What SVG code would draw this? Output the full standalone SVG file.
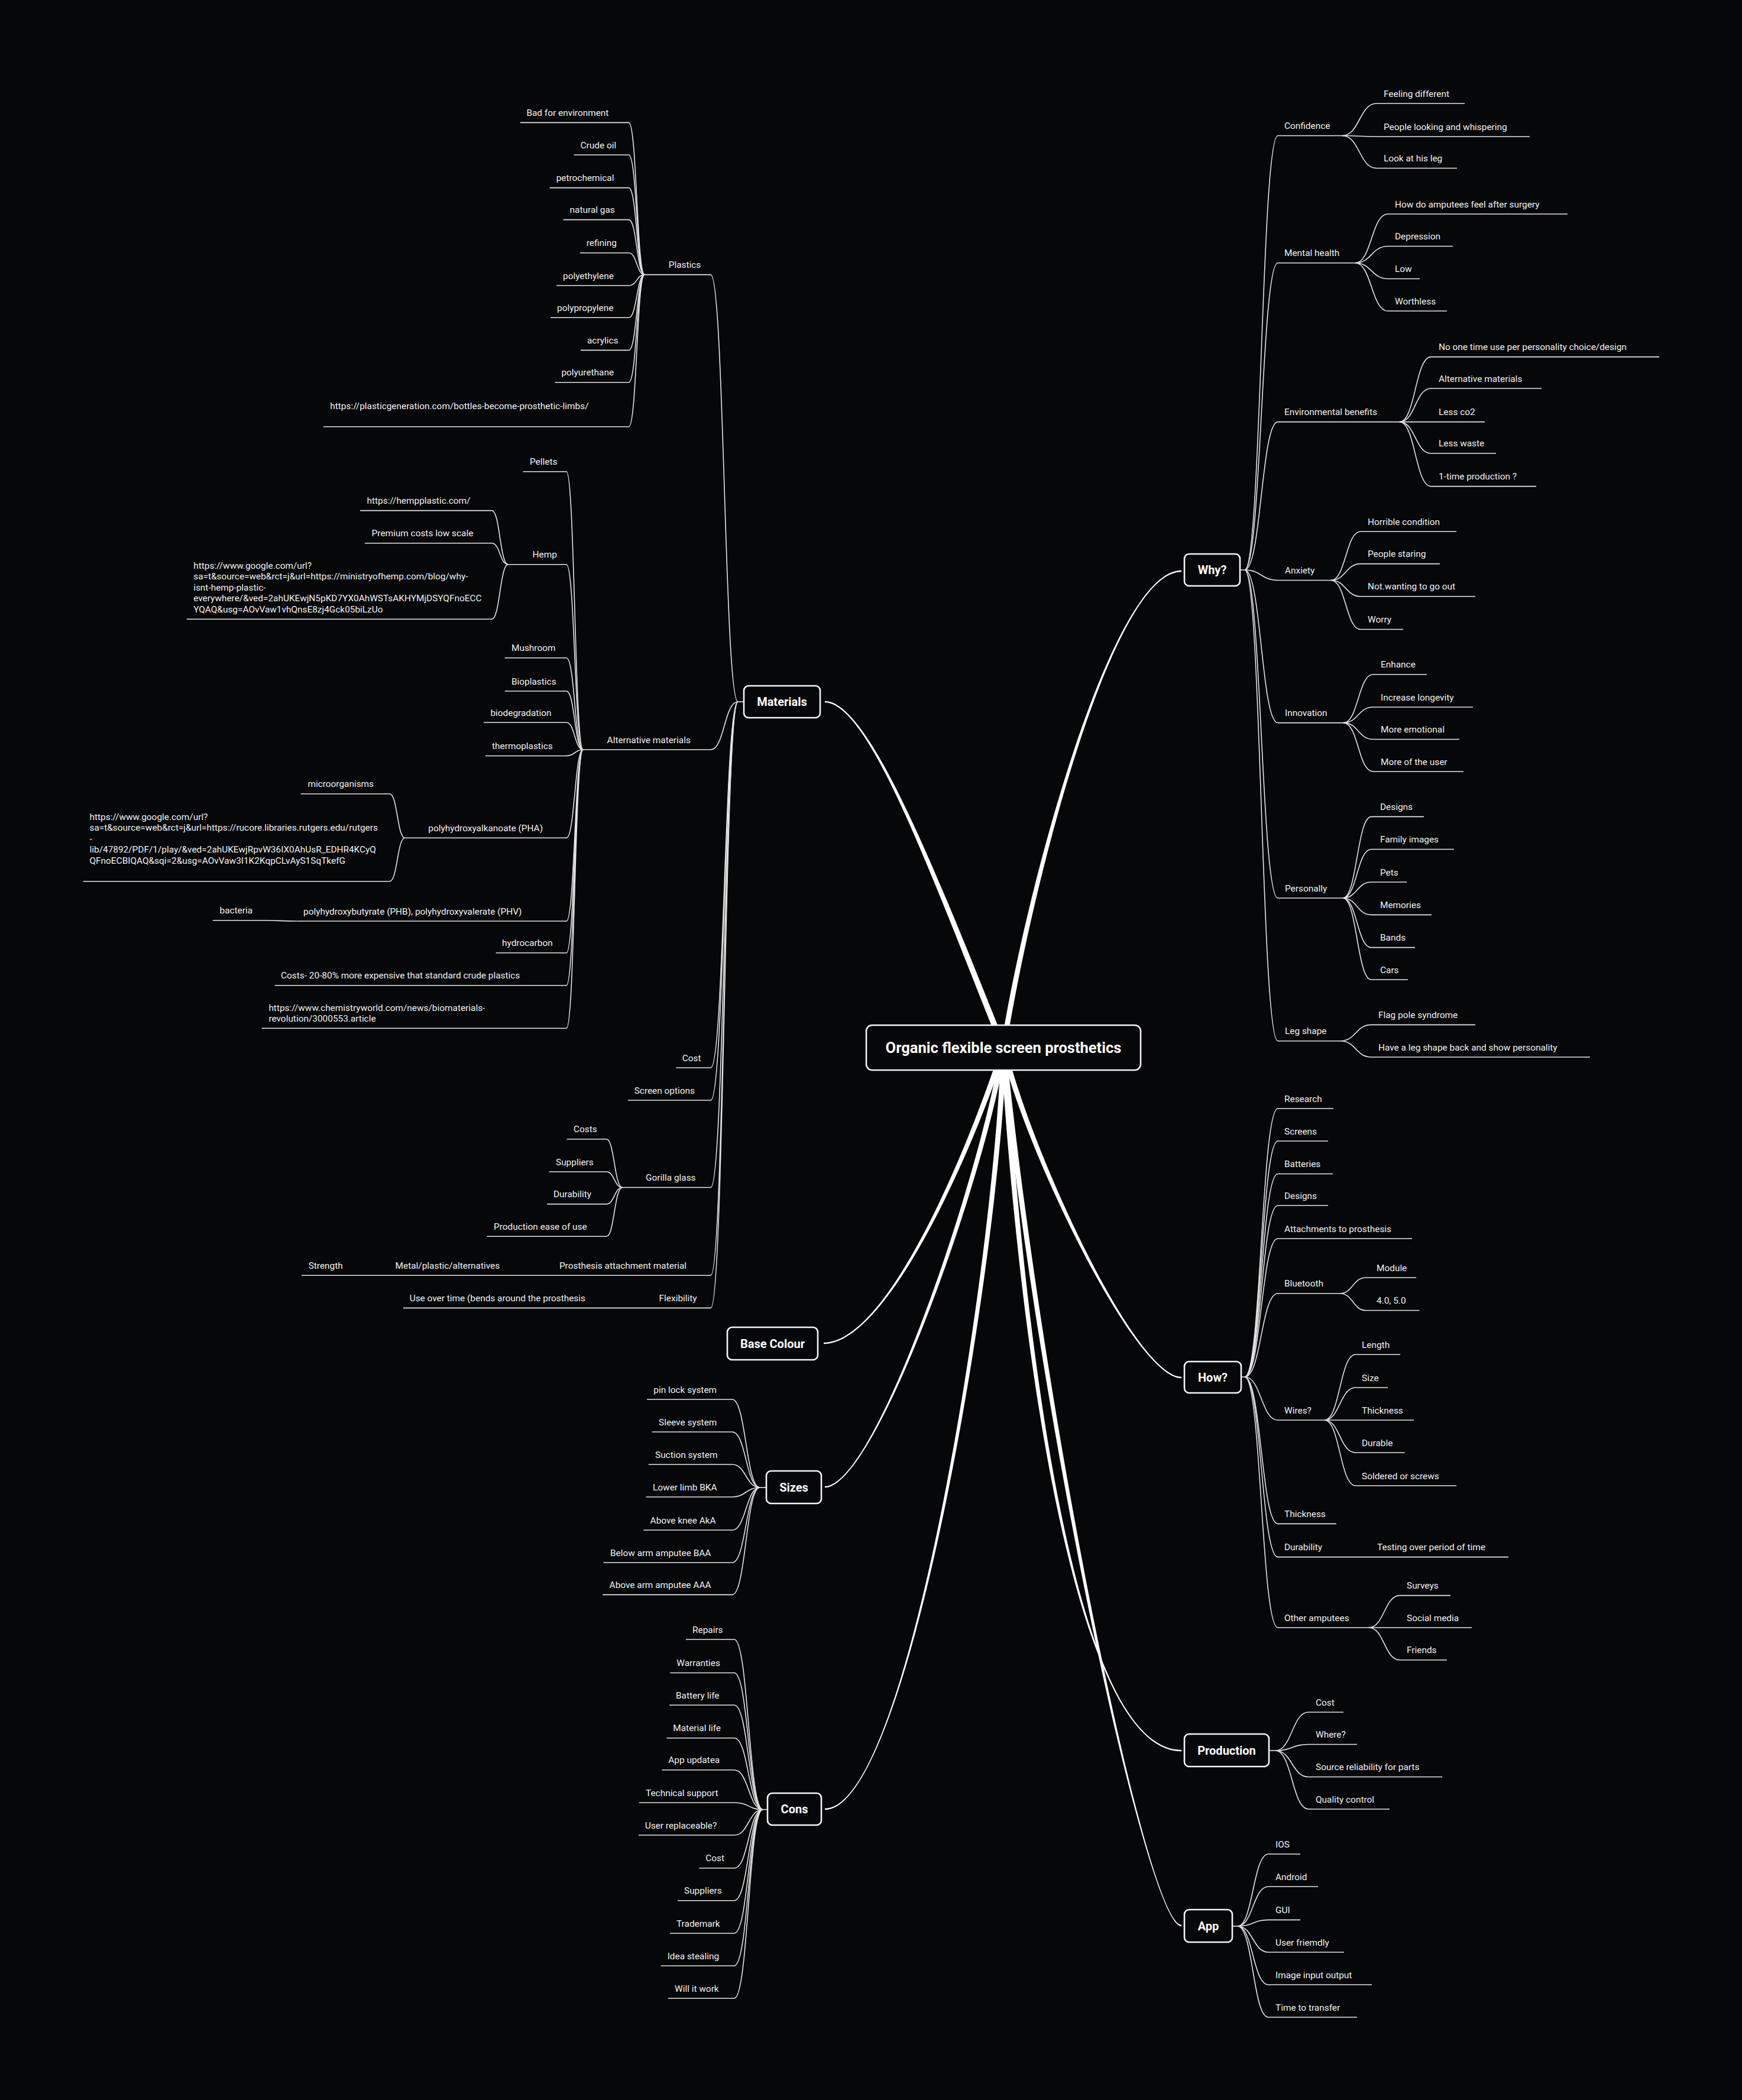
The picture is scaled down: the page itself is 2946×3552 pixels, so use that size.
<svg xmlns="http://www.w3.org/2000/svg" width="2946" height="3552" viewBox="0 0 2946 3552">
<style>
.bg{fill:#060709}
.m{fill:#ffffff}
.c{fill:none;stroke:#e4e4e4;stroke-width:1.6}
.t{font-family:Roboto,"Liberation Sans",sans-serif;font-size:15.4px;fill:#f2f2f2}
.nb{fill:#060709;stroke:#f4f4f4;stroke-width:2.6}
.nt{font-family:Roboto,"Liberation Sans",sans-serif;font-size:20px;font-weight:700;fill:#ffffff;text-anchor:middle}
.ct{font-family:Roboto,"Liberation Sans",sans-serif;font-size:25.5px;font-weight:700;fill:#ffffff;text-anchor:middle}
</style>
<rect class="bg" x="0" y="0" width="2946" height="3552"/>
<g id="connectors">
<!-- main tapered connectors -->
<path class="m" d="M1701.6 1770.1C1584.6 1478.1 1470 1185.8 1395 1185.8L1395 1188.2C1470 1188.2 1575.4 1481.9 1692.4 1773.9Z"/>
<path class="m" d="M1701.4 1772.7C1744.4 1500.7 1880 967.2 1998 967.2L1998 964.8C1880 964.8 1735.6 1499.3 1692.6 1771.3Z"/>
<path class="m" d="M1692.7 1770.6C1635.7 1948.6 1500 2270.8 1393 2270.8L1393 2273.2C1500 2273.2 1644.3 1951.4 1701.3 1773.4Z"/>
<path class="m" d="M1692.6 1771.3C1655.6 1999.3 1480 2513.8 1395 2513.8L1395 2516.2C1480 2516.2 1664.4 2000.7 1701.4 1772.7Z"/>
<path class="m" d="M1692.5 1771.9C1685.5 2099.9 1540 3058.8 1395 3058.8L1395 3061.2C1540 3061.2 1694.5 2100.1 1701.5 1772.1Z"/>
<path class="m" d="M1692.6 1773.1C1735.6 1951.1 1920 2331.2 1998 2331.2L1998 2328.8C1920 2328.8 1744.4 1948.9 1701.4 1770.9Z"/>
<path class="m" d="M1692.5 1772.3C1725.5 2300.3 1820 2962.2 1998 2962.2L1998 2959.8C1820 2959.8 1734.5 2299.7 1701.5 1771.7Z"/>
<path class="m" d="M1692.5 1772.5C1755.5 2400.5 1940 3258.2 1998 3258.2L1998 3255.8C1940 3255.8 1764.5 2399.5 1701.5 1771.5Z"/>
<!-- Why? -->
<path class="c" d="M2097 964H2105"/>
<path class="c" d="M2105 964C2133 964 2133 229.5 2161 229.5H2270"/>
<path class="c" d="M2105 964C2133 964 2133 444.8 2161 444.8H2292"/>
<path class="c" d="M2105 964C2133 964 2133 713.6 2161 713.6H2367"/>
<path class="c" d="M2105 964C2133 964 2133 981.5 2161 981.5H2251"/>
<path class="c" d="M2105 964C2133 964 2133 1222.6 2161 1222.6H2272"/>
<path class="c" d="M2105 964C2133 964 2133 1519 2161 1519H2271"/>
<path class="c" d="M2105 964C2133 964 2133 1760.7 2161 1760.7H2267"/>
<path class="c" d="M2270 229.5C2299 229.5 2299 175 2328 175H2477"/>
<path class="c" d="M2270 229.5C2299 229.5 2299 231 2328 231H2587"/>
<path class="c" d="M2270 229.5C2299 229.5 2299 284.5 2328 284.5H2464"/>
<path class="c" d="M2292 444.8C2319.5 444.8 2319.5 362 2347 362H2651"/>
<path class="c" d="M2292 444.8C2319.5 444.8 2319.5 416.5 2347 416.5H2457"/>
<path class="c" d="M2292 444.8C2319.5 444.8 2319.5 471.5 2347 471.5H2401"/>
<path class="c" d="M2292 444.8C2319.5 444.8 2319.5 526 2347 526H2447"/>
<path class="c" d="M2367 713.6C2393.5 713.6 2393.5 603.6 2420 603.6H2806"/>
<path class="c" d="M2367 713.6C2393.5 713.6 2393.5 657 2420 657H2607"/>
<path class="c" d="M2367 713.6C2393.5 713.6 2393.5 713.6 2420 713.6H2511"/>
<path class="c" d="M2367 713.6C2393.5 713.6 2393.5 766.7 2420 766.7H2530"/>
<path class="c" d="M2367 713.6C2393.5 713.6 2393.5 822.6 2420 822.6H2598"/>
<path class="c" d="M2251 981.5C2276 981.5 2276 899 2301 899H2463"/>
<path class="c" d="M2251 981.5C2276 981.5 2276 953.6 2301 953.6H2435"/>
<path class="c" d="M2251 981.5C2276 981.5 2276 1008.8 2301 1008.8H2495"/>
<path class="c" d="M2251 981.5C2276 981.5 2276 1064.5 2301 1064.5H2373"/>
<path class="c" d="M2272 1222.6C2297 1222.6 2297 1140.8 2322 1140.8H2413"/>
<path class="c" d="M2272 1222.6C2297 1222.6 2297 1196 2322 1196H2491"/>
<path class="c" d="M2272 1222.6C2297 1222.6 2297 1250.5 2322 1250.5H2468"/>
<path class="c" d="M2272 1222.6C2297 1222.6 2297 1305 2322 1305H2475"/>
<path class="c" d="M2271 1519C2295 1519 2295 1381.4 2319 1381.4H2408"/>
<path class="c" d="M2271 1519C2295 1519 2295 1436.5 2319 1436.5H2459"/>
<path class="c" d="M2271 1519C2295 1519 2295 1492 2319 1492H2379"/>
<path class="c" d="M2271 1519C2295 1519 2295 1547.4 2319 1547.4H2421"/>
<path class="c" d="M2271 1519C2295 1519 2295 1602.6 2319 1602.6H2393"/>
<path class="c" d="M2271 1519C2295 1519 2295 1657 2319 1657H2381"/>
<path class="c" d="M2267 1760.7C2293 1760.7 2293 1733.4 2319 1733.4H2495"/>
<path class="c" d="M2267 1760.7C2293 1760.7 2293 1788 2319 1788H2689"/>
<!-- How? -->
<path class="c" d="M2099 2329H2105"/>
<path class="c" d="M2105 2329C2133 2329 2133 1875 2161 1875H2255"/>
<path class="c" d="M2105 2329C2133 2329 2133 1930 2161 1930H2246"/>
<path class="c" d="M2105 2329C2133 2329 2133 1985.5 2161 1985.5H2254"/>
<path class="c" d="M2105 2329C2133 2329 2133 2039 2161 2039H2246"/>
<path class="c" d="M2105 2329C2133 2329 2133 2095 2161 2095H2388"/>
<path class="c" d="M2105 2329C2133 2329 2133 2187.7 2161 2187.7H2266"/>
<path class="c" d="M2105 2329C2133 2329 2133 2402 2161 2402H2240"/>
<path class="c" d="M2105 2329C2133 2329 2133 2577.4 2161 2577.4H2260"/>
<path class="c" d="M2105 2329C2133 2329 2133 2633.6 2161 2633.6H2551"/>
<path class="c" d="M2105 2329C2133 2329 2133 2753 2161 2753H2315"/>
<path class="c" d="M2266 2187.7C2288 2187.7 2288 2161 2310 2161H2395"/>
<path class="c" d="M2266 2187.7C2288 2187.7 2288 2216.5 2310 2216.5H2400.5"/>
<path class="c" d="M2240 2402C2266 2402 2266 2291 2292.5 2291H2368"/>
<path class="c" d="M2240 2402C2266 2402 2266 2347 2292.5 2347H2347"/>
<path class="c" d="M2240 2402C2266 2402 2266 2402 2292.5 2402H2391"/>
<path class="c" d="M2240 2402C2266 2402 2266 2457 2292.5 2457H2375.5"/>
<path class="c" d="M2240 2402C2266 2402 2266 2513 2292.5 2513H2463"/>
<path class="c" d="M2315 2753C2341 2753 2341 2698.6 2367.5 2698.6H2453"/>
<path class="c" d="M2315 2753C2341 2753 2341 2753 2367.5 2753H2489"/>
<path class="c" d="M2315 2753C2341 2753 2341 2807.8 2367.5 2807.8H2447"/>
<!-- Production -->
<path class="c" d="M2146 2961H2157"/>
<path class="c" d="M2157 2961C2185 2961 2185 2896 2213 2896H2272"/>
<path class="c" d="M2157 2961C2185 2961 2185 2950.5 2213 2950.5H2295"/>
<path class="c" d="M2157 2961C2185 2961 2185 3005.5 2213 3005.5H2439"/>
<path class="c" d="M2157 2961C2185 2961 2185 3060 2213 3060H2350"/>
<!-- App -->
<path class="c" d="M2084 3258H2093"/>
<path class="c" d="M2093 3258C2119 3258 2119 3136 2145 3136H2199"/>
<path class="c" d="M2093 3258C2119 3258 2119 3191 2145 3191H2229"/>
<path class="c" d="M2093 3258C2119 3258 2119 3247.4 2145 3247.4H2199"/>
<path class="c" d="M2093 3258C2119 3258 2119 3302 2145 3302H2273"/>
<path class="c" d="M2093 3258C2119 3258 2119 3357 2145 3357H2320"/>
<path class="c" d="M2093 3258C2119 3258 2119 3412 2145 3412H2295"/>
<!-- Materials -->
<path class="c" d="M1258 1187H1248"/>
<path class="c" d="M1248 1187C1225 1187 1225 464.6 1202 464.6H1090"/>
<path class="c" d="M1248 1187C1225 1187 1225 1268 1202 1268H986"/>
<path class="c" d="M1248 1187C1225 1187 1225 1806 1202 1806H1143.3"/>
<path class="c" d="M1248 1187C1225 1187 1225 1861 1202 1861H1061.8"/>
<path class="c" d="M1248 1187C1225 1187 1225 2008.5 1202 2008.5H1052.6"/>
<path class="c" d="M1248 1187C1225 1187 1225 2157.3 1202 2157.3H510"/>
<path class="c" d="M1248 1187C1225 1187 1225 2212.4 1202 2212.4H682"/>
<path class="c" d="M1090 464.6C1077 464.6 1077 207.4 1063.4 207.4H879.7"/>
<path class="c" d="M1090 464.6C1077 464.6 1077 262 1063.4 262H970.5"/>
<path class="c" d="M1090 464.6C1077 464.6 1077 317.6 1063.4 317.6H929.7"/>
<path class="c" d="M1090 464.6C1077 464.6 1077 371.6 1063.4 371.6H952.6"/>
<path class="c" d="M1090 464.6C1077 464.6 1077 427.8 1063.4 427.8H980.7"/>
<path class="c" d="M1090 464.6C1077 464.6 1077 483 1063.4 483H941"/>
<path class="c" d="M1090 464.6C1077 464.6 1077 537.3 1063.4 537.3H931"/>
<path class="c" d="M1090 464.6C1077 464.6 1077 592.4 1063.4 592.4H982"/>
<path class="c" d="M1090 464.6C1077 464.6 1077 646.7 1063.4 646.7H938.4"/>
<path class="c" d="M1090 464.6C1077 464.6 1077 721.8 1063.4 721.8H547"/>
<path class="c" d="M986 1268C972 1268 972 797.7 958 797.7H884.6"/>
<path class="c" d="M986 1268C972 1268 972 954.8 958 954.8H859.3"/>
<path class="c" d="M986 1268C972 1268 972 1112.7 958 1112.7H853.6"/>
<path class="c" d="M986 1268C972 1268 972 1169 958 1169H853.6"/>
<path class="c" d="M986 1268C972 1268 972 1222 958 1222H818"/>
<path class="c" d="M986 1268C972 1268 972 1278.5 958 1278.5H821"/>
<path class="c" d="M986 1268C972 1268 972 1417.3 958 1417.3H684.7"/>
<path class="c" d="M986 1268C972 1268 972 1558 958 1558H501.4"/>
<path class="c" d="M986 1268C972 1268 972 1611.7 958 1611.7H838.7"/>
<path class="c" d="M986 1268C972 1268 972 1666.7 958 1666.7H464.7"/>
<path class="c" d="M986 1268C972 1268 972 1739.3 958 1739.3H442.7"/>
<path class="c" d="M859.3 954.8C845.5 954.8 845.5 863.6 831.8 863.6H609"/>
<path class="c" d="M859.3 954.8C845.5 954.8 845.5 918.7 831.8 918.7H617"/>
<path class="c" d="M859.3 954.8C845.5 954.8 845.5 1047.2 831.8 1047.2H315.7"/>
<path class="c" d="M684.7 1417.3C672 1417.3 672 1342.7 659 1342.7H508.7"/>
<path class="c" d="M684.7 1417.3C672 1417.3 672 1490.7 659 1490.7H140.5"/>
<path class="c" d="M501.4 1558C474 1558 474 1556.7 446 1556.7H359.8"/>
<path class="c" d="M1052.6 2008.5C1039 2008.5 1039 1926.8 1025.7 1926.8H958.5"/>
<path class="c" d="M1052.6 2008.5C1039 2008.5 1039 1982 1025.7 1982H928.7"/>
<path class="c" d="M1052.6 2008.5C1039 2008.5 1039 2036.6 1025.7 2036.6H925.2"/>
<path class="c" d="M1052.6 2008.5C1039 2008.5 1039 2091.3 1025.7 2091.3H823.6"/>
<!-- Sizes -->
<path class="c" d="M1296 2516H1285"/>
<path class="c" d="M1285 2516C1261.6 2516 1261.6 2367 1238.3 2367H1094"/>
<path class="c" d="M1285 2516C1261.6 2516 1261.6 2422 1238.3 2422H1102.7"/>
<path class="c" d="M1285 2516C1261.6 2516 1261.6 2477 1238.3 2477H1096.7"/>
<path class="c" d="M1285 2516C1261.6 2516 1261.6 2532 1238.3 2532H1092.7"/>
<path class="c" d="M1285 2516C1261.6 2516 1261.6 2588 1238.3 2588H1088.3"/>
<path class="c" d="M1285 2516C1261.6 2516 1261.6 2643 1238.3 2643H1020.7"/>
<path class="c" d="M1285 2516C1261.6 2516 1261.6 2697.4 1238.3 2697.4H1019.3"/>
<!-- Cons -->
<path class="c" d="M1298 3060.7H1290"/>
<path class="c" d="M1290 3060.7C1266 3060.7 1266 2773 1241.7 2773H1160"/>
<path class="c" d="M1290 3060.7C1266 3060.7 1266 2829.5 1241.7 2829.5H1133.3"/>
<path class="c" d="M1290 3060.7C1266 3060.7 1266 2884 1241.7 2884H1132"/>
<path class="c" d="M1290 3060.7C1266 3060.7 1266 2939.7 1241.7 2939.7H1127.3"/>
<path class="c" d="M1290 3060.7C1266 3060.7 1266 2993.7 1241.7 2993.7H1119.3"/>
<path class="c" d="M1290 3060.7C1266 3060.7 1266 3049 1241.7 3049H1081"/>
<path class="c" d="M1290 3060.7C1266 3060.7 1266 3104 1241.7 3104H1079.7"/>
<path class="c" d="M1290 3060.7C1266 3060.7 1266 3159.8 1241.7 3159.8H1182.3"/>
<path class="c" d="M1290 3060.7C1266 3060.7 1266 3214.7 1241.7 3214.7H1146"/>
<path class="c" d="M1290 3060.7C1266 3060.7 1266 3270 1241.7 3270H1133"/>
<path class="c" d="M1290 3060.7C1266 3060.7 1266 3325 1241.7 3325H1117.7"/>
<path class="c" d="M1290 3060.7C1266 3060.7 1266 3380 1241.7 3380H1130"/>
</g>

<!-- central and main nodes -->
<g id="center"><rect class="nb" x="1465" y="1734" width="464" height="76" rx="10"/><text class="ct" x="1697" y="1781">Organic flexible screen prosthetics</text></g>
<g id="materials"><rect class="nb" x="1258" y="1160" width="129" height="54" rx="8"/><text class="nt" x="1322.5" y="1194">Materials</text></g>
<g id="why"><rect class="nb" x="2003" y="937" width="94" height="54" rx="8"/><text class="nt" x="2050" y="971">Why?</text></g>
<g id="how"><rect class="nb" x="2003" y="2303" width="96" height="53" rx="8"/><text class="nt" x="2051" y="2336.5">How?</text></g>
<g id="production"><rect class="nb" x="2003" y="2933" width="143" height="55" rx="8"/><text class="nt" x="2074.5" y="2967.5">Production</text></g>
<g id="app"><rect class="nb" x="2003" y="3230" width="81" height="55" rx="8"/><text class="nt" x="2043.5" y="3264.5">App</text></g>
<g id="base-colour"><rect class="nb" x="1230" y="2245" width="153" height="55" rx="8"/><text class="nt" x="1306.5" y="2279.5">Base Colour</text></g>
<g id="sizes"><rect class="nb" x="1296" y="2488" width="93" height="55" rx="8"/><text class="nt" x="1342.5" y="2522.5">Sizes</text></g>
<g id="cons"><rect class="nb" x="1298" y="3033" width="91" height="54" rx="8"/><text class="nt" x="1343.5" y="3067">Cons</text></g>

<!-- Why? branch -->
<g id="confidence"><text class="t" x="2172" y="218">Confidence</text></g>
<g id="feeling-different"><text class="t" x="2340" y="163.5">Feeling different</text></g>
<g id="people-looking"><text class="t" x="2340" y="219.5">People looking and whispering</text></g>
<g id="look-at-leg"><text class="t" x="2340" y="273">Look at his leg</text></g>
<g id="mental-health"><text class="t" x="2172" y="433.3">Mental health</text></g>
<g id="how-amputees-feel"><text class="t" x="2359" y="350.5">How do amputees feel after surgery</text></g>
<g id="depression"><text class="t" x="2359" y="405">Depression</text></g>
<g id="low"><text class="t" x="2359" y="460">Low</text></g>
<g id="worthless"><text class="t" x="2359" y="514.5">Worthless</text></g>
<g id="environmental-benefits"><text class="t" x="2172" y="702.1">Environmental benefits</text></g>
<g id="no-one-time-use"><text class="t" x="2433" y="592.1">No one time use per personality choice/design</text></g>
<g id="alt-materials-env"><text class="t" x="2433" y="645.5">Alternative materials</text></g>
<g id="less-co2"><text class="t" x="2433" y="702.1">Less co2</text></g>
<g id="less-waste"><text class="t" x="2433" y="755.2">Less waste</text></g>
<g id="one-time-production"><text class="t" x="2433" y="811.1">1-time production ?</text></g>
<g id="anxiety"><text class="t" x="2173" y="970">Anxiety</text></g>
<g id="horrible-condition"><text class="t" x="2313" y="887.5">Horrible condition</text></g>
<g id="people-staring"><text class="t" x="2313" y="942.1">People staring</text></g>
<g id="not-wanting"><text class="t" x="2313" y="997.3">Not.wanting to go out</text></g>
<g id="worry"><text class="t" x="2313" y="1053">Worry</text></g>
<g id="innovation"><text class="t" x="2173" y="1211.1">Innovation</text></g>
<g id="enhance"><text class="t" x="2335" y="1129.3">Enhance</text></g>
<g id="increase-longevity"><text class="t" x="2335" y="1184.5">Increase longevity</text></g>
<g id="more-emotional"><text class="t" x="2335" y="1239">More emotional</text></g>
<g id="more-of-user"><text class="t" x="2335" y="1293.5">More of the user</text></g>
<g id="personally"><text class="t" x="2173" y="1507.5">Personally</text></g>
<g id="designs-why"><text class="t" x="2334" y="1369.9">Designs</text></g>
<g id="family-images"><text class="t" x="2334" y="1425">Family images</text></g>
<g id="pets"><text class="t" x="2334" y="1480.5">Pets</text></g>
<g id="memories"><text class="t" x="2334" y="1535.9">Memories</text></g>
<g id="bands"><text class="t" x="2334" y="1591.1">Bands</text></g>
<g id="cars"><text class="t" x="2334" y="1645.5">Cars</text></g>
<g id="leg-shape"><text class="t" x="2173" y="1749.2">Leg shape</text></g>
<g id="flag-pole"><text class="t" x="2331" y="1721.9">Flag pole syndrome</text></g>
<g id="leg-shape-back"><text class="t" x="2331" y="1776.5">Have a leg shape back and show personality</text></g>

<!-- How? branch -->
<g id="research"><text class="t" x="2172" y="1863.5">Research</text></g>
<g id="screens"><text class="t" x="2172" y="1918.5">Screens</text></g>
<g id="batteries"><text class="t" x="2172" y="1974">Batteries</text></g>
<g id="designs-how"><text class="t" x="2172" y="2027.5">Designs</text></g>
<g id="attachments"><text class="t" x="2172" y="2083.5">Attachments to prosthesis</text></g>
<g id="bluetooth"><text class="t" x="2172" y="2176.2">Bluetooth</text></g>
<g id="module"><text class="t" x="2328" y="2149.5">Module</text></g>
<g id="bt-versions"><text class="t" x="2328" y="2205">4.0, 5.0</text></g>
<g id="wires"><text class="t" x="2172" y="2390.5">Wires?</text></g>
<g id="length"><text class="t" x="2303" y="2279.5">Length</text></g>
<g id="size"><text class="t" x="2303" y="2335.5">Size</text></g>
<g id="thickness-wires"><text class="t" x="2303" y="2390.5">Thickness</text></g>
<g id="durable"><text class="t" x="2303" y="2445.5">Durable</text></g>
<g id="soldered"><text class="t" x="2303" y="2501.5">Soldered or screws</text></g>
<g id="thickness-how"><text class="t" x="2172" y="2565.9">Thickness</text></g>
<g id="durability-how"><text class="t" x="2172" y="2622.1">Durability</text></g>
<g id="testing"><text class="t" x="2329" y="2622.1">Testing over period of time</text></g>
<g id="other-amputees"><text class="t" x="2172" y="2741.5">Other amputees</text></g>
<g id="surveys"><text class="t" x="2379" y="2687.1">Surveys</text></g>
<g id="social-media"><text class="t" x="2379" y="2741.5">Social media</text></g>
<g id="friends"><text class="t" x="2379" y="2796.3">Friends</text></g>

<!-- Production -->
<g id="prod-cost"><text class="t" x="2225" y="2884.5">Cost</text></g>
<g id="where"><text class="t" x="2225" y="2939">Where?</text></g>
<g id="source-reliability"><text class="t" x="2225" y="2994">Source reliability for parts</text></g>
<g id="quality-control"><text class="t" x="2225" y="3048.5">Quality control</text></g>

<!-- App -->
<g id="ios"><text class="t" x="2157" y="3124.5">IOS</text></g>
<g id="android"><text class="t" x="2157" y="3179.5">Android</text></g>
<g id="gui"><text class="t" x="2157" y="3235.9">GUI</text></g>
<g id="user-friendly"><text class="t" x="2157" y="3290.5">User friemdly</text></g>
<g id="image-io"><text class="t" x="2157" y="3345.5">Image input output</text></g>
<g id="time-transfer"><text class="t" x="2157" y="3400.5">Time to transfer</text></g>

<!-- Materials branch -->
<g id="plastics"><text class="t" x="1130.7" y="453.1">Plastics</text></g>
<g id="bad-env"><text class="t" x="890.4" y="195.9">Bad for environment</text></g>
<g id="crude-oil"><text class="t" x="981.5" y="250.5">Crude oil</text></g>
<g id="petrochemical"><text class="t" x="940.7" y="306.1">petrochemical</text></g>
<g id="natural-gas"><text class="t" x="963.6" y="360.1">natural gas</text></g>
<g id="refining"><text class="t" x="991.7" y="416.3">refining</text></g>
<g id="polyethylene"><text class="t" x="952" y="471.5">polyethylene</text></g>
<g id="polypropylene"><text class="t" x="942" y="525.8">polypropylene</text></g>
<g id="acrylics"><text class="t" x="993" y="580.9">acrylics</text></g>
<g id="polyurethane"><text class="t" x="949.4" y="635.2">polyurethane</text></g>
<g id="plasticgeneration"><text class="t" x="558.3" y="692">https://plasticgeneration.com/bottles-become-prosthetic-limbs/</text></g>
<g id="alternative-materials"><text class="t" x="1026.6" y="1256.5">Alternative materials</text></g>
<g id="pellets"><text class="t" x="896" y="786.2">Pellets</text></g>
<g id="hemp"><text class="t" x="900.6" y="943.3">Hemp</text></g>
<g id="hempplastic"><text class="t" x="620.5" y="852.1">https://hempplastic.com/</text></g>
<g id="premium-costs"><text class="t" x="628.6" y="907.2">Premium costs low scale</text></g>
<g id="hemp-url"><text class="t" x="327.2" y="961.5"><tspan x="327.2">https://www.google.com/url?</tspan><tspan x="327.2" dy="18.55">sa=t&amp;source=web&amp;rct=j&amp;url=https://ministryofhemp.com/blog/why-</tspan><tspan x="327.2" dy="18.55">isnt-hemp-plastic-</tspan><tspan x="327.2" dy="18.55">everywhere/&amp;ved=2ahUKEwjN5pKD7YX0AhWSTsAKHYMjDSYQFnoECC</tspan><tspan x="327.2" dy="18.55">YQAQ&amp;usg=AOvVaw1vhQnsE8zj4Gck05biLzUo</tspan></text></g>
<g id="mushroom"><text class="t" x="865" y="1101.2">Mushroom</text></g>
<g id="bioplastics"><text class="t" x="865" y="1157.5">Bioplastics</text></g>
<g id="biodegradation"><text class="t" x="829.4" y="1210.5">biodegradation</text></g>
<g id="thermoplastics"><text class="t" x="832" y="1267">thermoplastics</text></g>
<g id="pha"><text class="t" x="724.3" y="1405.8">polyhydroxyalkanoate (PHA)</text></g>
<g id="microorganisms"><text class="t" x="520.4" y="1331.2">microorganisms</text></g>
<g id="rutgers-url"><text class="t" x="151.5" y="1386.5"><tspan x="151.5">https://www.google.com/url?</tspan><tspan x="151.5" dy="18.6">sa=t&amp;source=web&amp;rct=j&amp;url=https://rucore.libraries.rutgers.edu/rutgers</tspan><tspan x="151.5" dy="18.6">-</tspan><tspan x="151.5" dy="18.6">lib/47892/PDF/1/play/&amp;ved=2ahUKEwjRpvW36IX0AhUsR_EDHR4KCyQ</tspan><tspan x="151.5" dy="18.6">QFnoECBIQAQ&amp;sqi=2&amp;usg=AOvVaw3I1K2KqpCLvAyS1SqTkefG</tspan></text></g>
<g id="phb-phv"><text class="t" x="513" y="1546.5">polyhydroxybutyrate (PHB), polyhydroxyvalerate (PHV)</text></g>
<g id="bacteria"><text class="t" x="371.5" y="1545.2">bacteria</text></g>
<g id="hydrocarbon"><text class="t" x="849" y="1600.2">hydrocarbon</text></g>
<g id="costs-expensive"><text class="t" x="475" y="1655.2">Costs- 20-80% more expensive that standard crude plastics</text></g>
<g id="chemistryworld"><text class="t" x="454.4" y="1709.8"><tspan x="454.4">https://www.chemistryworld.com/news/biomaterials-</tspan><tspan x="454.4" dy="18">revolution/3000553.article</tspan></text></g>
<g id="mat-cost"><text class="t" x="1153.7" y="1794.5">Cost</text></g>
<g id="screen-options"><text class="t" x="1072.7" y="1849.5">Screen options</text></g>
<g id="gorilla-glass"><text class="t" x="1092" y="1997">Gorilla glass</text></g>
<g id="gg-costs"><text class="t" x="970" y="1915.3">Costs</text></g>
<g id="gg-suppliers"><text class="t" x="940" y="1970.5">Suppliers</text></g>
<g id="gg-durability"><text class="t" x="936" y="2025.1">Durability</text></g>
<g id="production-ease"><text class="t" x="835" y="2079.8">Production ease of use</text></g>
<g id="prosthesis-attachment"><text class="t" x="945.9" y="2145.8">Prosthesis attachment material</text></g>
<g id="metal-plastic"><text class="t" x="668.6" y="2145.8">Metal/plastic/alternatives</text></g>
<g id="strength"><text class="t" x="521.7" y="2145.8">Strength</text></g>
<g id="flexibility"><text class="t" x="1114.6" y="2200.9">Flexibility</text></g>
<g id="use-over-time"><text class="t" x="692.7" y="2200.9">Use over time (bends around the prosthesis</text></g>

<!-- Sizes -->
<g id="pin-lock"><text class="t" x="1105.3" y="2355.5">pin lock system</text></g>
<g id="sleeve"><text class="t" x="1114" y="2410.5">Sleeve system</text></g>
<g id="suction"><text class="t" x="1108" y="2465.5">Suction system</text></g>
<g id="lower-limb"><text class="t" x="1104" y="2520.5">Lower limb BKA</text></g>
<g id="above-knee"><text class="t" x="1099.6" y="2576.5">Above knee AkA</text></g>
<g id="below-arm"><text class="t" x="1032" y="2631.5">Below arm amputee BAA</text></g>
<g id="above-arm"><text class="t" x="1030.6" y="2685.9">Above arm amputee AAA</text></g>

<!-- Cons -->
<g id="repairs"><text class="t" x="1171" y="2761.5">Repairs</text></g>
<g id="warranties"><text class="t" x="1144.3" y="2818">Warranties</text></g>
<g id="battery-life"><text class="t" x="1143" y="2872.5">Battery life</text></g>
<g id="material-life"><text class="t" x="1138.3" y="2928.2">Material life</text></g>
<g id="app-updates"><text class="t" x="1130.3" y="2982.2">App updatea</text></g>
<g id="technical-support"><text class="t" x="1092" y="3037.5">Technical support</text></g>
<g id="user-replaceable"><text class="t" x="1090.7" y="3092.5">User replaceable?</text></g>
<g id="cons-cost"><text class="t" x="1193.3" y="3148.3">Cost</text></g>
<g id="cons-suppliers"><text class="t" x="1157" y="3203.2">Suppliers</text></g>
<g id="trademark"><text class="t" x="1144" y="3258.5">Trademark</text></g>
<g id="idea-stealing"><text class="t" x="1128.7" y="3313.5">Idea stealing</text></g>
<g id="will-it-work"><text class="t" x="1141" y="3368.5">Will it work</text></g>
</svg>
